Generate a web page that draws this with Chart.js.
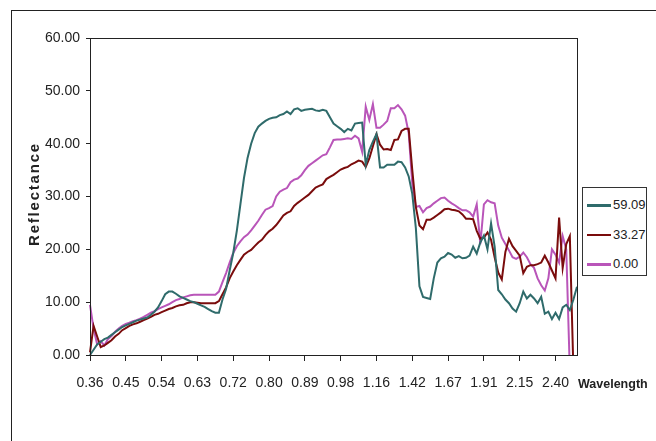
<!DOCTYPE html>
<html>
<head>
<meta charset="utf-8">
<script src="https://cdn.jsdelivr.net/npm/chart.js@4.4.1/dist/chart.umd.min.js"></script>
<style>
  html, body { margin: 0; padding: 0; background: #fff; }
  #wrap { position: relative; width: 656px; height: 441px; overflow: hidden; }
  #frame {
    position: absolute; left: 11px; top: 10px; right: -5px; bottom: -5px;
    border-top: 1.5px solid #222; border-left: 1.5px solid #222;
  }
  canvas { position: absolute; left: 0; top: 0; }
  #legend {
    position: absolute; left: 582px; top: 187px; width: 63px; height: 87px;
    border: 1px solid #333; background: #fff;
    font: 13px 'Liberation Sans', Arial, sans-serif;
    color: #222;
  }
  #legend .row { position: absolute; left: 4px; height: 18px; line-height: 18px; white-space: nowrap; }
  #legend .swatch { display: inline-block; width: 24px; height: 2.5px; vertical-align: middle; margin-right: 2px; }
</style>
</head>
<body>
<div id="wrap">
  <div id="frame"></div>
  <canvas id="chart" width="656" height="441"></canvas>
  <div id="legend"></div>
</div>
<script>
// x tick labels, one every 10 samples
const tickLabels = ['0.36', '0.45', '0.54', '0.63', '0.72', '0.80', '0.89', '0.98',
  '1.16', '1.42', '1.67', '1.91', '2.15', '2.40'];
const samplesPerTick = 10;

const seriesNames = ['59.09', '33.27', '0.00'];
const seriesColors = ['#2f6b6b', '#7a0c0c', '#b955b9'];

// reflectance, 137 samples each
const refl5909 = [
  0.0, 1.0, 2.0, 2.5, 3.0, 3.3, 3.8, 4.3, 4.8, 5.3,
  5.6, 5.9, 6.2, 6.5, 6.7, 6.9, 7.1, 7.6, 8.2, 9.0,
  10.2, 11.5, 12.0, 12.0, 11.6, 11.1, 10.8, 10.5, 10.2, 10.0,
  9.7, 9.4, 9.1, 8.7, 8.3, 8.0, 8.0, 10.5, 12.5, 16.0,
  19.3, 23.5, 28.5, 33.5, 37.3, 40.0, 42.0, 43.2, 43.8, 44.3,
  44.7, 44.9, 45.0, 45.4, 45.6, 46.1, 45.6, 46.5, 46.7, 46.2,
  46.4, 46.5, 46.6, 46.3, 46.2, 46.4, 46.2, 45.0, 43.8, 43.3,
  42.8, 42.2, 42.8, 42.5, 43.8, 43.9, 44.0, 36.0, 38.8, 40.4,
  41.8, 35.5, 35.5, 36.0, 36.0, 36.0, 36.6, 36.5, 35.5, 33.8,
  30.5, 24.0, 13.0, 11.0, 10.8, 10.6, 14.5, 17.5, 18.3, 18.6,
  19.3, 19.0, 18.4, 18.7, 18.3, 18.4, 18.8, 20.5, 19.2, 21.3,
  22.6, 20.0, 24.9, 20.5, 12.3, 11.5, 10.5, 9.8, 8.8, 8.2,
  9.8, 12.0, 10.7, 11.4, 10.7, 9.8, 11.0, 7.8, 8.2, 6.8,
  8.0, 6.8, 9.0, 9.5, 8.5, 10.5, 12.9
];
const refl3327 = [
  0.5, 5.5, 3.5, 1.5, 1.8, 2.3, 2.8, 3.5, 4.0, 4.7,
  5.1, 5.5, 5.8, 6.0, 6.3, 6.6, 6.9, 7.2, 7.6, 7.8,
  8.1, 8.4, 8.7, 8.9, 9.2, 9.4, 9.5, 9.8, 10.0, 10.0,
  9.9, 9.8, 9.8, 9.8, 9.8, 9.8, 10.2, 11.5, 12.8, 14.5,
  15.8, 17.0, 18.0, 19.0, 19.5, 19.9, 20.6, 21.3, 21.8, 22.7,
  23.4, 23.9, 24.6, 25.5, 26.4, 26.9, 27.2, 28.2, 28.8, 29.3,
  29.8, 30.3, 31.0, 31.7, 32.0, 32.3, 33.3, 33.7, 34.1, 34.6,
  35.1, 35.4, 35.6, 36.1, 36.4, 36.8, 36.6, 35.6, 37.2, 39.5,
  41.8, 39.8, 38.9, 39.0, 38.8, 40.7, 40.8, 42.4, 42.8, 42.8,
  35.0, 28.0, 24.5, 23.8, 25.6, 25.6, 26.0, 26.5, 27.0, 27.6,
  27.7, 27.5, 27.4, 27.2, 26.6, 25.8, 25.8, 25.7, 23.5, 22.0,
  22.2, 23.2, 21.8, 18.5, 15.6, 14.3, 19.5, 22.0, 20.6, 19.7,
  18.8, 15.5, 16.7, 17.0, 17.0, 17.2, 17.5, 18.8, 17.5, 16.0,
  14.5, 26.0, 16.5, 21.0, 22.5, -3.0, -3.0
];
const refl000 = [
  9.5, 5.0, 2.0, 2.6, 1.8, 3.0, 3.6, 4.4, 5.0, 5.5,
  5.9, 6.1, 6.4, 6.6, 6.9, 7.2, 7.6, 8.0, 8.3, 8.7,
  9.0, 9.3, 9.6, 10.0, 10.4, 10.6, 10.9, 11.1, 11.3, 11.4,
  11.4, 11.4, 11.4, 11.4, 11.4, 11.4, 12.0, 13.8, 15.5, 17.5,
  19.3, 20.6, 21.5, 22.3, 22.8, 23.6, 24.5, 25.4, 26.5, 27.5,
  27.8, 28.2, 30.0, 30.9, 31.3, 31.6, 32.7, 33.2, 33.4, 34.0,
  35.0, 35.8, 36.3, 36.8, 37.3, 37.8, 38.0, 39.3, 40.7, 40.8,
  40.8, 40.9, 41.0, 40.9, 41.5, 41.0, 38.5, 47.0, 44.5, 47.5,
  43.0, 43.0, 43.6, 44.3, 46.7, 46.7, 47.3, 46.5, 45.3, 42.0,
  32.5, 28.0, 28.2, 27.0, 27.8, 28.1, 28.7, 29.2, 29.7, 29.8,
  29.2, 28.7, 28.3, 27.8, 27.4, 27.4, 27.0, 26.2, 28.5, 21.0,
  28.5, 29.3, 28.9, 28.7, 24.5, 22.2, 21.0, 19.8, 18.5, 18.2,
  18.6, 19.4, 18.5, 17.2, 16.5, 14.5, 13.2, 12.2, 14.5, 20.0,
  19.0, 17.5, 22.5, 20.0, -3.0, -3.0, -3.0
];

const yTicks = [0, 10, 20, 30, 40, 50, 60];

const FONT = "'Liberation Sans', Arial, sans-serif";

const labels = refl5909.map((_, i) => (i % samplesPerTick === 0 ? tickLabels[i / samplesPerTick] : ''));
const series = [refl5909, refl3327, refl000];

// plot frame, axis names
const framePlugin = {
  id: 'frame',
  afterDraw(chart) {
    const { ctx, chartArea: a } = chart;
    ctx.save();
    ctx.strokeStyle = '#222';
    ctx.lineWidth = 1;
    ctx.strokeRect(a.left + 0.5, a.top + 0.5, a.right - a.left, a.bottom - a.top);
    ctx.fillStyle = '#222';
    ctx.textBaseline = 'middle';
    ctx.textAlign = 'left';
    ctx.font = 'bold 12.5px ' + FONT;
    ctx.fillText('Wavelength', 578, 385);
    // y name, a little spaced out like the original
    ctx.translate(35, 194);
    ctx.rotate(-Math.PI / 2);
    ctx.textAlign = 'center';
    ctx.font = 'bold 15px ' + FONT;
    ctx.letterSpacing = '1.8px';
    ctx.fillText('Reflectance', 0, 0);
    ctx.restore();
  },
};

const chart = new Chart(document.getElementById('chart'), {
  type: 'line',
  data: {
    labels,
    datasets: series.map((data, k) => ({
      label: seriesNames[k],
      data,
      borderColor: seriesColors[k],
      backgroundColor: seriesColors[k],
      borderWidth: 2,
      pointRadius: 0,
      tension: 0,
      fill: false,
    })),
  },
  options: {
    responsive: false,
    animation: false,
    layout: { padding: { top: 38, right: 79, left: 0, bottom: 0 } },
    plugins: { legend: { display: false }, tooltip: { enabled: false } },
    scales: {
      x: {
        type: 'category',
        offset: false,
        afterFit: (s) => { s.height = 86; },
        border: { color: '#222', width: 1 },
        grid: { drawOnChartArea: false, tickLength: 6, tickColor: '#222' },
        ticks: {
          autoSkip: false,
          maxRotation: 0,
          minRotation: 0,
          padding: 14,
          color: '#222',
          font: { family: FONT, size: 14 },
          // unlabelled samples get no tick
          callback: (v, i) => labels[i] || null,
        },
      },
      y: {
        min: 0,
        max: 60,
        afterFit: (s) => { s.width = 90; },
        afterBuildTicks: (s) => { s.ticks = yTicks.map((v) => ({ value: v })); },
        border: { color: '#222', width: 1 },
        grid: { drawOnChartArea: false, tickLength: 4, tickColor: '#222' },
        ticks: {
          padding: 6,
          color: '#222',
          font: { family: FONT, size: 14 },
          callback: (v) => Number(v).toFixed(2),
        },
      },
    },
  },
  plugins: [framePlugin],
});

// legend box
const legend = document.getElementById('legend');
seriesNames.forEach((name, k) => {
  const row = document.createElement('div');
  row.className = 'row';
  row.style.top = (8 + k * 29.5) + 'px';
  row.innerHTML = '<span class="swatch" style="background:' + seriesColors[k] + '"></span>' + name;
  legend.appendChild(row);
});
</script>
</body>
</html>
